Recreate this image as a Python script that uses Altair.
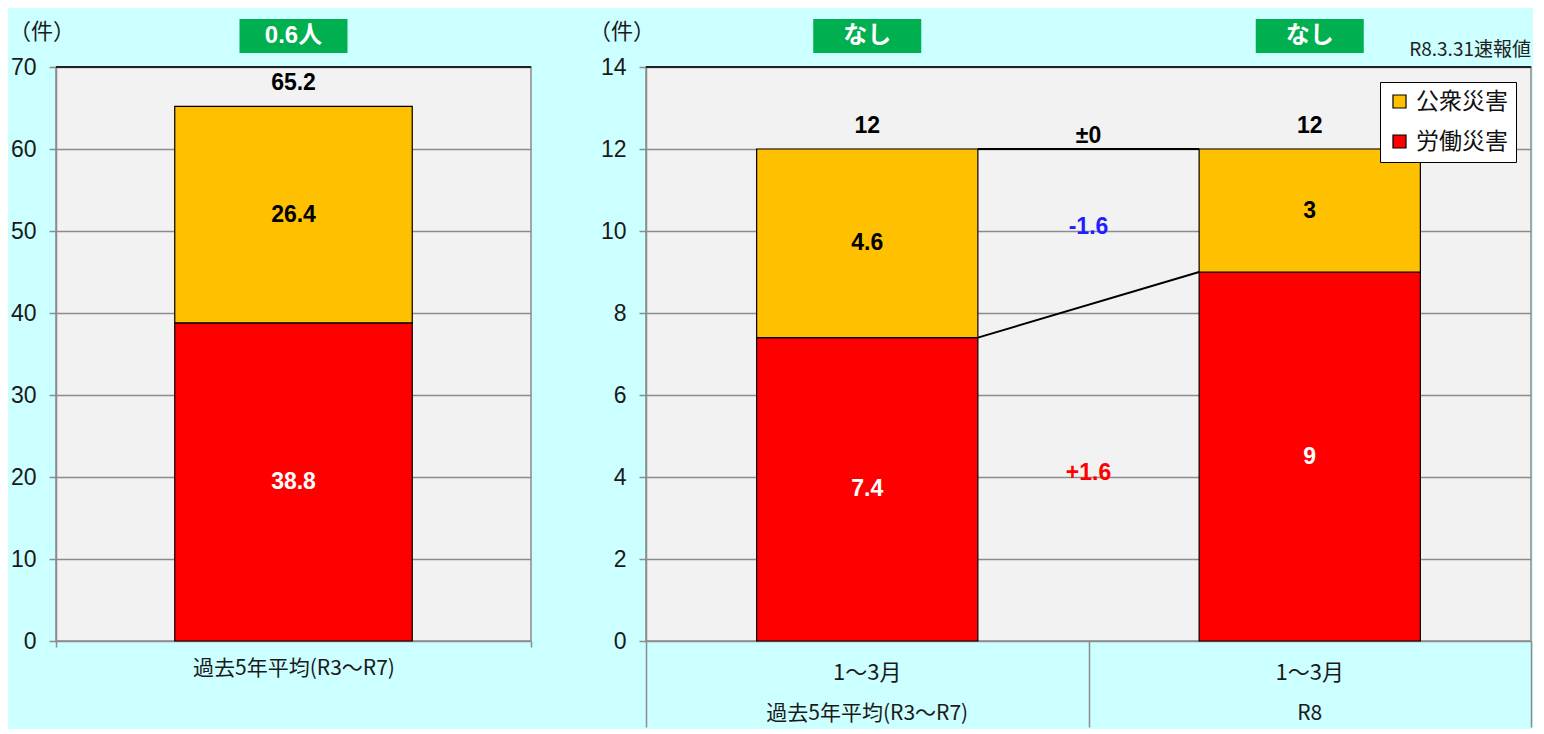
import altair as alt
import pandas as pd

# ---------------- data ----------------
series = ["公衆災害", "労働災害"]
series_colors = ["#FFC000", "#FF0000"]

left_cats = ["過去5年平均(R3～R7)"]
left_labor = [38.8]
left_public = [26.4]
left_deaths = ["0.6人"]
left_ticks = [0, 10, 20, 30, 40, 50, 60, 70]

right_cats = ["過去5年平均(R3～R7)", "R8"]
right_period = ["1～3月", "1～3月"]
right_labor = [7.4, 9]
right_public = [4.6, 3]
right_deaths = ["なし", "なし"]
right_ticks = [0, 2, 4, 6, 8, 10, 12, 14]

unit_text = "（件）"
note_text = "R8.3.31速報値"

# ---------------- style ----------------
GREEN = "#00B050"
GRAY = "#8C8C8C"
CJK = "Noto Sans CJK JP"
LAT = "Liberation Sans, Arial, Noto Sans CJK JP"
H = 574
WL = 475
WR = 885
BELOW = 86
BAR = 0.5  # bar width as a share of the band
VAL_FS = 23


def fmt(v):
    return f"{v:g}"


def stack_df(cats, labor, public):
    rows = []
    for c, lb, pb in zip(cats, labor, public):
        rows.append({"cat": c, "series": "労働災害", "y0": 0, "y1": lb,
                     "mid": lb / 2, "label": fmt(lb)})
        rows.append({"cat": c, "series": "公衆災害", "y0": lb, "y1": lb + pb,
                     "mid": lb + pb / 2, "label": fmt(pb)})
    return pd.DataFrame(rows)


def total_df(cats, labor, public, deaths):
    return pd.DataFrame({"cat": cats,
                         "total": [round(a + b, 1) for a, b in zip(labor, public)],
                         "tlabel": [fmt(round(a + b, 1)) for a, b in zip(labor, public)],
                         "deaths": deaths})


def xenc(field, cats, axis, **kw):
    return alt.X(f"{field}:N",
                 scale=alt.Scale(domain=cats, paddingInner=0, paddingOuter=0),
                 axis=axis, title=None, **kw)


def yaxis(ticks):
    return alt.Axis(title=None, values=ticks, tickSize=7, tickColor=GRAY,
                    tickWidth=1.5, domainColor=GRAY, domainWidth=1.5,
                    grid=True, gridColor=GRAY, gridWidth=1.5,
                    labelFontSize=23, labelFont=LAT, labelColor="#1a1a1a",
                    labelPadding=13)


def yenc(field, ticks):
    return alt.Y(f"{field}:Q",
                 scale=alt.Scale(domain=[ticks[0], ticks[-1]], nice=False),
                 axis=yaxis(ticks), title=None)


def panel(cats, labor, public, deaths, ticks, xaxis, legend, unit_x):
    sdf = stack_df(cats, labor, public)
    tdf = total_df(cats, labor, public, deaths)
    base_s = alt.Chart(sdf)
    base_t = alt.Chart(tdf)

    bars = base_s.mark_bar(stroke="black", strokeWidth=1.2,
                           width=alt.RelativeBandSize(BAR)).encode(
        x=xenc("cat", cats, xaxis),
        y=yenc("y0", ticks),
        y2="y1:Q",
        color=alt.Color("series:N",
                        scale=alt.Scale(domain=series, range=series_colors),
                        legend=legend),
    )
    seg = base_s.mark_text(fontSize=VAL_FS, fontWeight="bold", font=LAT,
                           baseline="middle").encode(
        x=xenc("cat", cats, xaxis),
        y=yenc("mid", ticks),
        text="label:N",
        color=alt.condition(alt.datum.series == "労働災害",
                            alt.value("white"), alt.value("black")),
    )
    tot = base_t.mark_text(fontSize=VAL_FS, fontWeight="bold", font=LAT,
                           baseline="middle", dy=-23, color="black").encode(
        x=xenc("cat", cats, xaxis),
        y=yenc("total", ticks),
        text="tlabel:N",
    )
    top = alt.Chart(pd.DataFrame({"top": [ticks[-1]]})).mark_rule(
        color="#222222", strokeWidth=2).encode(y=yenc("top", ticks))
    gbox = base_t.mark_bar(width=108, color=GREEN).encode(
        x=xenc("cat", cats, xaxis),
        y=alt.value(-48), y2=alt.value(-14),
    )
    gtxt = base_t.mark_text(fontSize=24, fontWeight="bold", font=LAT,
                            color="white", baseline="middle").encode(
        x=xenc("cat", cats, xaxis),
        y=alt.value(-31),
        text="deaths:N",
    )
    unit = alt.Chart(pd.DataFrame({"u": [unit_text]})).mark_text(
        align="left", baseline="middle", fontSize=22, font=CJK,
        color="#1a1a1a").encode(
        x=alt.value(unit_x), y=alt.value(-35), text="u:N")
    return [bars, seg, tot, top, gbox, gtxt, unit]


# ---------------- left panel ----------------
left_axis = alt.Axis(title=None, tickBand="extent", tickSize=6, tickColor=GRAY,
                     tickWidth=1.5, domain=False, grid=False, labelAngle=0,
                     labelFontSize=21, labelFont=CJK, labelColor="#1a1a1a",
                     labelPadding=10, labelLimit=0)
left = alt.layer(*panel(left_cats, left_labor, left_public, left_deaths,
                        left_ticks, left_axis, None, -47)
                 ).properties(width=WL, height=H)

# ---------------- right panel ----------------
right_axis = alt.Axis(title=None, tickBand="extent", tickSize=BELOW,
                      tickColor=GRAY, tickWidth=1.5, domain=False, grid=False,
                      labels=False)
legend = alt.Legend(title=None, orient="none", legendX=734, legendY=15,
                    direction="vertical", fillColor="white", strokeColor="black",
                    padding=8, symbolType="square", symbolSize=170,
                    symbolStrokeColor="black", symbolStrokeWidth=1.2,
                    labelFontSize=23, labelFont=CJK, labelColor="#111111",
                    labelOffset=5, rowPadding=16)
r_layers = panel(right_cats, right_labor, right_public, right_deaths,
                 right_ticks, right_axis, legend, -57)

# connectors between the bars (right edge of bar 1 -> left edge of bar 2)
conn = pd.DataFrame({
    "a": [right_cats[0], right_cats[0]],
    "b": [right_cats[1], right_cats[1]],
    "ya": [right_labor[0] + right_public[0], right_labor[0]],
    "yb": [right_labor[1] + right_public[1], right_labor[1]],
})
conn_rule = alt.Chart(conn).mark_rule(color="black", strokeWidth=2).encode(
    x=xenc("a", right_cats, right_axis, bandPosition=0.5 + BAR / 2),
    x2=alt.X2("b:N", bandPosition=0.5 - BAR / 2),
    y=yenc("ya", right_ticks),
    y2="yb:Q",
)

# difference labels
tot0 = right_labor[0] + right_public[0]
tot1 = right_labor[1] + right_public[1]
d_tot = round(tot1 - tot0, 1)
d_pub = round(right_public[1] - right_public[0], 1)
d_lab = round(right_labor[1] - right_labor[0], 1)
mid_conn = (right_labor[0] + right_labor[1]) / 2


def dfmt(d):
    return "±0" if d == 0 else f"{d:+.1f}"


diff = pd.DataFrame({
    "cat": [right_cats[0]] * 2,
    "y": [(max(tot0, tot1) + mid_conn) / 2, mid_conn / 2],
    "txt": [dfmt(d_pub), dfmt(d_lab)],
    "kind": ["public", "labor"],
})
diff_text = alt.Chart(diff).mark_text(fontSize=VAL_FS, fontWeight="bold",
                                      font=LAT, baseline="middle").encode(
    x=xenc("cat", right_cats, right_axis, bandPosition=1),
    y=yenc("y", right_ticks),
    text="txt:N",
    color=alt.Color("kind:N", scale=alt.Scale(domain=["public", "labor"],
                                              range=["#1F1FFF", "#FF0000"]),
                    legend=None),
)
diff_tot = alt.Chart(pd.DataFrame({"cat": [right_cats[0]],
                                   "y": [max(tot0, tot1)],
                                   "txt": [dfmt(d_tot)]})).mark_text(
    fontSize=VAL_FS, fontWeight="bold", font=LAT, baseline="middle", dy=-13,
    color="black").encode(
    x=xenc("cat", right_cats, right_axis, bandPosition=1),
    y=yenc("y", right_ticks),
    text="txt:N",
)

# category rows below the right panel
rows = pd.DataFrame({"cat": right_cats, "period": right_period})
row1 = alt.Chart(rows).mark_text(fontSize=22, font=CJK, color="#1a1a1a",
                                 baseline="middle").encode(
    x=xenc("cat", right_cats, right_axis),
    y=alt.value(H + 32), text="period:N")
row2 = alt.Chart(rows).mark_text(fontSize=21, font=CJK, color="#1a1a1a",
                                 baseline="middle").encode(
    x=xenc("cat", right_cats, right_axis),
    y=alt.value(H + 73), text="cat:N")

note = alt.Chart(pd.DataFrame({"n": [note_text]})).mark_text(
    align="right", baseline="middle", fontSize=19, font=CJK,
    color="#222222").encode(x=alt.value(WR), y=alt.value(-17), text="n:N")

right = alt.layer(*r_layers, conn_rule, diff_text, diff_tot, row1, row2,
                  note).properties(width=WR, height=H).resolve_scale(
    color="independent")

chart = alt.hconcat(left, right, spacing=115, bounds="flush").resolve_scale(
    color="independent").properties(
    padding={"left": 0, "top": 10, "right": 0, "bottom": 0}
).configure(background="#CCFFFF").configure_view(
    fill="#F2F2F2", stroke=GRAY, strokeWidth=1.5)

chart.save("out.html", embed_options={"renderer": "svg", "actions": False})
